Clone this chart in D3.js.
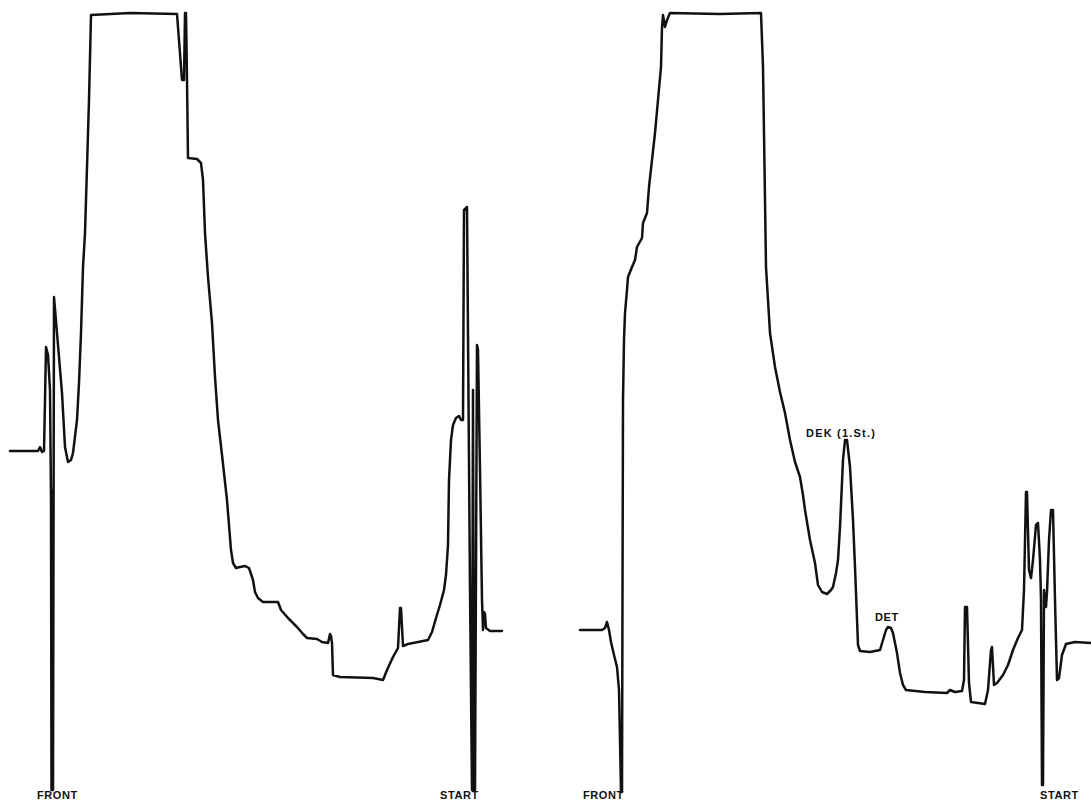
<!DOCTYPE html>
<html>
<head>
<meta charset="utf-8">
<script src="https://cdn.jsdelivr.net/npm/d3@7"></script>
<style>
  html, body { margin: 0; padding: 0; background: #fff; }
  svg { display: block; }
  .lbl { font-family: "Liberation Sans", Arial, sans-serif; font-weight: bold; fill: #111; }
</style>
</head>
<body>
<svg id="chart" width="1091" height="802"></svg>
<script>
// Left chromatogram: time (min) and detector signal (arbitrary units)
const leftTime = [0,2.8,3.0,3.2,3.4,3.5,3.6,3.8,4.0,4.1,4.15,4.2,4.25,4.3,4.4,4.7,5.2,5.5,5.8,6.1,6.3,6.7,6.9,7.1,7.3,7.5,7.7,7.9,8.1,12.0,16.7,17.2,17.4,17.5,17.6,17.7,17.8,18.7,19.1,19.3,19.5,19.8,20.2,20.5,20.8,21.2,21.7,22.1,22.3,22.6,23.0,23.5,23.9,24.3,24.5,24.8,25.3,26.8,27.1,27.8,28.7,29.3,29.7,30.7,31.2,31.8,32.0,32.1,32.2,32.3,33.0,36.3,37.3,37.7,38.3,38.8,39.0,39.1,39.3,39.8,40.8,41.8,42.2,42.6,43.0,43.4,43.6,43.8,43.9,44.1,44.3,44.6,44.9,45.1,45.3,45.4,45.7,46.0,46.2,46.3,46.4,46.5,46.7,46.8,47.0,47.2,47.3,47.4,47.5,47.6,48.0,49.2];
const leftSignal = [33.9,33.9,34.3,33.8,33.9,39.0,44.3,43.5,40.0,29.0,0,30.0,0,0,49.3,45.7,39.7,34.3,32.8,33.0,33.7,37.0,40.7,45.7,52.3,55.7,62.3,69.0,77.5,77.7,77.6,71.0,71.0,77.7,77.7,71.0,63.2,63.1,62.7,61.0,55.7,51.3,46.7,41.3,37.0,33.5,29.0,24.0,22.7,22.2,22.3,22.4,22.2,21.0,19.8,19.2,18.8,18.8,18.0,17.2,16.3,15.6,15.2,15.1,14.8,14.7,15.6,15.4,14.7,11.5,11.3,11.2,11.0,12.0,13.3,14.2,18.2,18.2,14.4,14.6,14.8,15.0,15.8,17.2,18.5,20.0,21.5,24.5,31.0,35.0,36.5,37.2,37.4,37.0,37.0,58.0,58.3,20.0,0,40.0,0,0,44.5,44.0,32.0,19.0,16.0,17.8,17.6,16.2,15.9,15.9];

// Right chromatogram
const rightTime = [0,2.2,2.5,2.7,2.9,3.1,3.4,3.7,3.9,4.0,4.1,4.2,4.3,4.4,4.5,4.7,4.8,5.2,5.5,5.7,6.2,6.3,6.7,6.9,7.2,7.5,7.8,8.1,8.2,8.3,8.5,8.7,9.0,14.0,18.1,18.3,18.4,18.5,18.6,18.8,19.0,19.5,20.0,20.5,21.0,21.5,22.0,22.3,22.5,23.0,23.5,23.8,24.2,24.7,25.1,25.3,25.6,25.8,26.0,26.3,26.5,26.7,27.0,27.3,27.5,27.8,28.0,29.0,30.0,30.3,30.6,30.8,31.1,31.3,31.7,32.0,32.3,32.6,34.5,36.7,37.0,37.5,38.2,38.4,38.5,38.7,38.9,39.1,40.5,40.8,41.1,41.2,41.4,41.7,42.3,42.8,43.3,43.8,44.2,44.4,44.6,44.7,44.9,45.1,45.3,45.6,45.8,46.0,46.1,46.2,46.3,46.4,46.6,46.7,46.9,47.1,47.3,47.5,47.7,47.9,48.2,48.6,49.5,51.1];
const rightSignal = [16.0,16.0,16.2,16.8,16.0,14.8,13.5,12.3,10.0,5.0,-0.2,-0.2,39.0,45.0,47.7,50.0,51.3,52.3,53.0,54.3,55.2,56.7,57.7,60.3,63.0,65.7,69.0,72.3,76.3,77.5,76.3,77.0,77.7,77.6,77.7,72.3,65.7,59.0,52.3,49.0,45.7,42.3,39.8,37.7,35.0,32.8,31.3,29.5,28.0,25.0,22.7,20.5,19.8,19.6,20.0,20.3,21.7,23.0,26.3,33.0,35.0,35.0,32.3,27.0,22.3,14.5,13.9,13.8,14.0,15.0,16.0,16.3,16.2,15.7,13.7,11.7,10.5,10.0,9.8,9.7,10.0,9.8,9.9,11.0,18.3,18.3,10.7,8.8,8.6,10.0,14.0,14.3,10.5,10.7,11.5,12.5,14.0,15.2,16.0,20.0,29.8,29.8,22.0,21.2,23.0,26.5,26.7,23.0,19.0,0.5,0.5,20.0,18.3,19.8,25.0,28.0,28.0,19.0,11.0,11.2,13.5,14.6,14.8,14.7];

// Annotations (text, time, signal) per panel
const leftLabelText = ["FRONT", "START"];
const leftLabelTime = [2.7, 43.0];
const leftLabelSignal = [-0.9, -0.9];
const rightLabelText = ["FRONT", "START", "DEK (1.St.)", "DET"];
const rightLabelTime = [0.3, 46.0, 22.6, 29.5];
const rightLabelSignal = [-0.9, -0.9, 35.3, 16.9];

const svg = d3.select("#chart");

const y = d3.scaleLinear().domain([0, 77.6]).range([790, 14]);
const xLeft = d3.scaleLinear().domain([0, 49]).range([10, 500]);
const xRight = d3.scaleLinear().domain([0, 51.1]).range([580, 1091]);

function drawPanel(x, times, signals, lt, lx, ly) {
  const pts = times.map((t, i) => [t, signals[i]]);
  const line = d3.line().x(d => x(d[0])).y(d => y(d[1]));
  const g = svg.append("g");
  g.append("path")
    .datum(pts)
    .attr("d", line)
    .attr("fill", "none")
    .attr("stroke", "#111")
    .attr("stroke-width", 2.5)
    .attr("stroke-linejoin", "round")
    .attr("stroke-linecap", "round");
  g.selectAll("text")
    .data(lt.map((s, i) => ({ s, t: lx[i], v: ly[i] })))
    .join("text")
    .attr("class", "lbl")
    .attr("x", d => x(d.t))
    .attr("y", d => y(d.v))
    .attr("font-size", 11)
    .attr("letter-spacing", d => d.s.length > 5 ? 1.2 : 0.6)
    .text(d => d.s);
}

drawPanel(xLeft, leftTime, leftSignal, leftLabelText, leftLabelTime, leftLabelSignal);
drawPanel(xRight, rightTime, rightSignal, rightLabelText, rightLabelTime, rightLabelSignal);
</script>
</body>
</html>
